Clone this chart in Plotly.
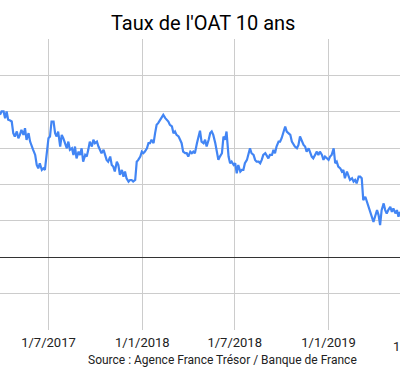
import plotly.graph_objects as go
import pandas as pd

title = "Taux de l'OAT 10 ans"
source = "Source : Agence France Trésor / Banque de France"

dates = [
    "2017-03-28","2017-03-31","2017-04-04","2017-04-07","2017-04-10","2017-04-13","2017-04-17","2017-04-20","2017-04-23","2017-04-26",
    "2017-04-30","2017-05-03","2017-05-06","2017-05-09","2017-05-13","2017-05-16","2017-05-19","2017-05-23","2017-05-26","2017-05-29",
    "2017-06-01","2017-06-05","2017-06-08","2017-06-11","2017-06-14","2017-06-18","2017-06-21","2017-06-24","2017-06-28","2017-07-01",
    "2017-07-04","2017-07-07","2017-07-11","2017-07-14","2017-07-17","2017-07-20","2017-07-24","2017-07-27","2017-07-30","2017-08-02",
    "2017-08-06","2017-08-09","2017-08-12","2017-08-16","2017-08-19","2017-08-22","2017-08-25","2017-08-29","2017-09-01","2017-09-04",
    "2017-09-07","2017-09-11","2017-09-14","2017-09-17","2017-09-20","2017-09-24","2017-09-27","2017-09-30","2017-10-04","2017-10-07",
    "2017-10-10","2017-10-13","2017-10-17","2017-10-20","2017-10-23","2017-10-26","2017-10-30","2017-11-02","2017-11-05","2017-11-08",
    "2017-11-12","2017-11-15","2017-11-18","2017-11-22","2017-11-25","2017-11-28","2017-12-01","2017-12-05","2017-12-08","2017-12-11",
    "2017-12-14","2017-12-18","2017-12-21","2017-12-24","2017-12-28","2017-12-31","2018-01-03","2018-01-06","2018-01-10","2018-01-13",
    "2018-01-16","2018-01-19","2018-01-23","2018-01-26","2018-01-29","2018-02-01","2018-02-05","2018-02-08","2018-02-11","2018-02-15",
    "2018-02-18","2018-02-21","2018-02-24","2018-02-28","2018-03-03","2018-03-06","2018-03-09","2018-03-13","2018-03-16","2018-03-19",
    "2018-03-22","2018-03-26","2018-03-29","2018-04-01","2018-04-05","2018-04-08","2018-04-11","2018-04-14","2018-04-18","2018-04-21",
    "2018-04-24","2018-04-27","2018-05-01","2018-05-04","2018-05-07","2018-05-11","2018-05-14","2018-05-17","2018-05-20","2018-05-24",
    "2018-05-27","2018-05-30","2018-06-02","2018-06-06","2018-06-09","2018-06-12","2018-06-15","2018-06-19","2018-06-22","2018-06-25",
    "2018-06-29","2018-07-02","2018-07-05","2018-07-08","2018-07-12","2018-07-15","2018-07-18","2018-07-21","2018-07-25","2018-07-28",
    "2018-07-31","2018-08-03","2018-08-07","2018-08-10","2018-08-13","2018-08-17","2018-08-20","2018-08-23","2018-08-26","2018-08-30",
    "2018-09-02","2018-09-05","2018-09-08","2018-09-12","2018-09-15","2018-09-18","2018-09-21","2018-09-25","2018-09-28","2018-10-01",
    "2018-10-05","2018-10-08","2018-10-11","2018-10-14","2018-10-18","2018-10-21","2018-10-24","2018-10-27","2018-10-31","2018-11-03",
    "2018-11-06","2018-11-10","2018-11-13","2018-11-16","2018-11-19","2018-11-23","2018-11-26","2018-11-29","2018-12-02","2018-12-06",
    "2018-12-09","2018-12-12","2018-12-15","2018-12-19","2018-12-22","2018-12-25","2018-12-29","2019-01-01","2019-01-04","2019-01-07",
    "2019-01-11","2019-01-14","2019-01-17","2019-01-20","2019-01-24","2019-01-27","2019-01-30","2019-02-02","2019-02-06","2019-02-09",
    "2019-02-12","2019-02-16","2019-02-19","2019-02-22","2019-02-25","2019-03-01","2019-03-04","2019-03-07","2019-03-10","2019-03-14",
    "2019-03-17","2019-03-20","2019-03-24","2019-03-27","2019-03-30","2019-04-02","2019-04-06","2019-04-09","2019-04-12","2019-04-15",
    "2019-04-19","2019-04-22","2019-04-25","2019-04-28","2019-05-02","2019-05-05","2019-05-08","2019-05-12","2019-05-15","2019-05-18",
    "2019-05-21",
]

rates = [
    0.979,1.002,1.002,0.956,1.002,0.945,0.940,0.933,0.853,0.830,
    0.864,0.818,0.841,0.876,0.841,0.887,0.807,0.853,0.795,0.761,
    0.738,0.703,0.634,0.611,0.646,0.600,0.611,0.600,0.715,0.818,
    0.830,0.933,0.933,0.853,0.830,0.864,0.761,0.841,0.818,0.784,
    0.749,0.795,0.738,0.749,0.703,0.761,0.680,0.726,0.703,0.749,
    0.657,0.703,0.692,0.738,0.795,0.761,0.807,0.784,0.795,0.761,
    0.738,0.715,0.738,0.703,0.669,0.657,0.692,0.634,0.623,0.589,
    0.657,0.634,0.566,0.600,0.554,0.589,0.543,0.520,0.531,0.531,
    0.520,0.531,0.657,0.669,0.692,0.726,0.715,0.726,0.749,0.784,
    0.784,0.807,0.784,0.853,0.910,0.922,0.945,0.956,0.979,0.956,
    0.945,0.933,0.910,0.899,0.853,0.864,0.841,0.830,0.807,0.784,
    0.726,0.715,0.715,0.692,0.726,0.715,0.726,0.715,0.784,0.830,
    0.870,0.795,0.784,0.807,0.761,0.807,0.853,0.864,0.841,0.784,
    0.715,0.669,0.692,0.715,0.830,0.807,0.864,0.692,0.646,0.657,
    0.634,0.646,0.577,0.634,0.589,0.600,0.600,0.646,0.669,0.703,
    0.749,0.715,0.703,0.669,0.657,0.657,0.646,0.669,0.703,0.715,
    0.692,0.680,0.703,0.703,0.738,0.715,0.761,0.795,0.795,0.818,
    0.864,0.899,0.864,0.853,0.841,0.795,0.772,0.761,0.749,0.772,
    0.830,0.795,0.772,0.761,0.726,0.749,0.715,0.692,0.680,0.703,
    0.726,0.703,0.726,0.703,0.669,0.692,0.680,0.669,0.692,0.703,
    0.749,0.646,0.657,0.623,0.611,0.589,0.600,0.543,0.589,0.566,
    0.531,0.543,0.520,0.531,0.508,0.554,0.554,0.543,0.393,0.416,
    0.381,0.347,0.301,0.278,0.243,0.278,0.324,0.290,0.221,0.324,
    0.370,0.324,0.301,0.324,0.347,0.312,0.336,0.301,0.324,0.278,
    0.312,
]

x_range = ["2017-03-28", "2019-05-21"]
tick_dates = ["2017-07-01", "2018-01-01", "2018-07-01", "2019-01-01"]
tick_labels = ["1/7/2017", "1/1/2018", "1/7/2018", "1/1/2019"]
clipped_tick_date = "2019-07-01"
clipped_tick_label = "1/7/2019"
y_ticks = [-0.5, -0.25, 0, 0.25, 0.5, 0.75, 1, 1.25, 1.5]

fig = go.Figure()
fig.add_trace(go.Scatter(
    x=dates, y=rates, mode="lines",
    line=dict(color="#4285F4", width=2.2),
    hoverinfo="skip", showlegend=False,
))

r0, r1 = pd.Timestamp(x_range[0]), pd.Timestamp(x_range[1])
frac = (pd.Timestamp(clipped_tick_date) - r0) / (r1 - r0)

fig.update_layout(
    width=400, height=371,
    margin=dict(l=0, r=0, t=39, b=41, pad=0),
    paper_bgcolor="white", plot_bgcolor="white",
    font=dict(family="Roboto", size=13, color="#222222"),
    title=dict(text=title, x=0.508, xanchor="center", y=1 - 23 / 371, yanchor="middle",
               font=dict(family="Roboto", size=20, color="#000000")),
    xaxis=dict(
        range=x_range, type="date",
        tickmode="array", tickvals=tick_dates, ticktext=tick_labels,
        showgrid=True, gridcolor="#cccccc", gridwidth=1,
        zeroline=False, showline=False, ticks="",
        ticklabelstandoff=3,
        tickfont=dict(family="Roboto", size=13, color="#222222"),
        fixedrange=True,
    ),
    yaxis=dict(
        range=[-0.5, 1.5], tickmode="array", tickvals=y_ticks,
        showticklabels=False, showgrid=True, gridcolor="#cccccc", gridwidth=1,
        zeroline=True, zerolinecolor="#333333", zerolinewidth=1,
        showline=False, ticks="", fixedrange=True,
    ),
    annotations=[
        dict(text=clipped_tick_label, xref="paper", yref="paper", x=frac, y=0,
             xanchor="center", yanchor="top", yshift=-7, showarrow=False,
             font=dict(family="Roboto", size=13, color="#222222")),
        dict(text=source, xref="paper", yref="paper", x=0.556, y=0,
             xanchor="center", yanchor="middle", yshift=-30, showarrow=False,
             font=dict(family="Roboto", size=12, color="#222222")),
    ],
)

fig.write_html("out.html", config={"displayModeBar": False})
